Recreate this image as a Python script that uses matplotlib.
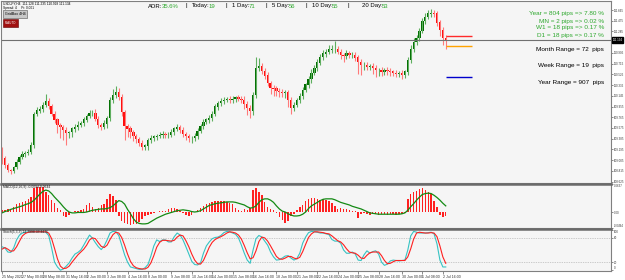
import numpy as np
import matplotlib.pyplot as plt
from matplotlib.transforms import blended_transform_factory

plt.rcParams['font.family'] = ['Liberation Sans', 'DejaVu Sans']

# USDJPY H4 closes
closes = [
    109.04, 108.92, 108.83, 108.81, 108.88, 108.97, 109.06, 109.11, 109.13, 109.15,
    109.27, 109.82, 109.88, 109.91, 109.98, 110.05, 109.96, 109.82, 109.72, 109.63,
    109.59, 109.54, 109.49, 109.50, 109.56, 109.59, 109.63, 109.66, 109.72, 109.79,
    109.84, 109.84, 109.73, 109.63, 109.59, 109.65, 109.75, 110.07, 110.16, 110.21,
    110.12, 109.86, 109.61, 109.56, 109.50, 109.43, 109.38, 109.31, 109.24, 109.26,
    109.36, 109.40, 109.42, 109.43, 109.45, 109.47, 109.45, 109.45, 109.50, 109.56,
    109.59, 109.54, 109.47, 109.43, 109.40, 109.40, 109.43, 109.52, 109.61, 109.68,
    109.72, 109.75, 109.82, 109.95, 110.02, 110.05, 110.07, 110.09, 110.07, 110.09,
    110.11, 110.09, 110.07, 110.00, 109.93, 109.88, 110.16, 110.64, 110.67, 110.58,
    110.50, 110.37, 110.28, 110.27, 110.23, 110.21, 110.20, 110.20, 110.07, 109.93,
    109.98, 110.07, 110.14, 110.25, 110.34, 110.44, 110.55, 110.64, 110.73, 110.83,
    110.89, 110.92, 110.96, 110.97, 110.97, 110.92, 110.87, 110.85, 110.89, 110.87,
    110.87, 110.82, 110.74, 110.69, 110.69, 110.66, 110.67, 110.64, 110.60, 110.60,
    110.57, 110.60, 110.58, 110.57, 110.55, 110.53, 110.55, 110.51, 110.57, 110.78,
    110.97, 111.10, 111.17, 111.29, 111.47, 111.54, 111.60, 111.61, 111.60, 111.44,
    111.31, 111.17, 111.13,
]
first_open = 109.15
# wick lengths in pips above / below the body
wick_up = [
    8, 4, 3, 2, 3, 5, 4, 5, 4, 6, 5, 4, 6, 6, 5, 12, 5, 4, 5, 4,
    3, 4, 5, 3, 4, 5, 6, 4, 5, 4, 6, 5, 7, 5, 4, 6, 4, 5, 10, 11,
    8, 5, 4, 4, 5, 4, 3, 4, 5, 3, 4, 5, 3, 4, 6, 5, 4, 5, 6, 4,
    5, 4, 6, 4, 3, 4, 5, 6, 4, 5, 4, 6, 5, 5, 4, 6, 5, 4, 5, 6,
    4, 5, 5, 8, 5, 6, 6, 20, 14, 6, 5, 6, 4, 5, 4, 5, 6, 4, 5, 6,
    5, 4, 6, 5, 4, 6, 7, 5, 6, 5, 7, 6, 8, 8, 15, 6, 5, 4, 6, 5,
    5, 6, 4, 5, 6, 5, 4, 6, 5, 4, 5, 4, 6, 5, 4, 5, 4, 5, 4, 6,
    8, 7, 6, 5, 6, 7, 7, 7, 6, 5, 4, 5, 5,
]
wick_dn = [
    10, 5, 4, 5, 3, 4, 3, 4, 5, 3, 4, 5, 3, 4, 5, 4, 5, 4, 6, 15,
    20, 18, 22, 10, 8, 6, 5, 4, 5, 4, 4, 5, 4, 6, 5, 4, 8, 6, 5, 6,
    5, 8, 25, 14, 10, 8, 7, 6, 6, 5, 7, 6, 5, 6, 4, 5, 6, 5, 4, 5,
    4, 6, 5, 7, 8, 10, 6, 5, 4, 5, 4, 5, 6, 4, 5, 6, 5, 4, 5, 6,
    5, 4, 6, 8, 12, 12, 8, 6, 5, 4, 5, 6, 10, 12, 8, 9, 8, 10, 12, 10,
    5, 4, 5, 6, 4, 5, 6, 4, 5, 4, 5, 6, 4, 5, 6, 4, 8, 10, 6, 5,
    6, 5, 20, 18, 8, 6, 5, 10, 12, 10, 8, 6, 6, 7, 6, 5, 6, 7, 5, 6,
    5, 4, 5, 6, 4, 5, 4, 6, 5, 6, 10, 12, 15,
]

macd_hist = [
    0.004, 0.005, 0.006, 0.008, 0.012, 0.018, 0.020, 0.022, 0.026, 0.030,
    0.034, 0.055, 0.057, 0.058, 0.056, 0.045, 0.038, 0.028, 0.020, 0.010,
    0.004, -0.008, -0.011, -0.006, 0.001, 0.002, 0.003, 0.004, 0.008, 0.016,
    0.020, 0.012, 0.008, 0.010, 0.015, 0.018, 0.030, 0.040, 0.036, 0.028,
    -0.010, -0.020, -0.026, -0.028, -0.029, -0.028, -0.027, -0.022, -0.016, -0.010,
    -0.007, -0.004, -0.002, 0.001, 0.002, 0.002, 0.003, 0.006, 0.009, 0.010,
    0.006, 0.002, -0.002, -0.007, -0.009, -0.006, 0.001, 0.004, 0.010, 0.014,
    0.018, 0.020, 0.022, 0.024, 0.026, 0.025, 0.026, 0.022, 0.020, 0.018,
    0.010, 0.004, 0.002, 0.008, 0.004, 0.010, 0.050, 0.055, 0.045, 0.038,
    0.022, 0.012, 0.008, 0.004, -0.002, -0.012, -0.018, -0.025, -0.020, -0.010,
    -0.005, 0.004, 0.012, 0.016, 0.024, 0.030, 0.033, 0.032, 0.030, 0.028,
    0.029, 0.027, 0.026, 0.020, 0.014, 0.008, 0.010, 0.007, 0.006, 0.004,
    0.003, 0.002, -0.014, -0.005, -0.003, -0.004, -0.006, -0.004, -0.005, -0.006,
    -0.005, -0.004, -0.006, -0.005, -0.004, -0.006, -0.005, -0.004, -0.003, 0.030,
    0.040, 0.045, 0.048, 0.052, 0.055, 0.050, 0.045, 0.040, 0.025, 0.012,
    -0.006, -0.012, -0.010,
]
macd_signal = [
    -0.002, 0.001, 0.003, 0.006, 0.008, 0.010, 0.012, 0.014, 0.017, 0.019,
    0.022, 0.027, 0.034, 0.041, 0.047, 0.050, 0.048, 0.042, 0.034, 0.027,
    0.020, 0.012, 0.005, 0.000, -0.002, -0.002, -0.001, -0.001, -0.001, 0.000,
    0.002, 0.004, 0.005, 0.006, 0.007, 0.007, 0.008, 0.010, 0.014, 0.020,
    0.026, 0.024, 0.018, 0.006, -0.004, -0.015, -0.023, -0.026, -0.027, -0.027,
    -0.026, -0.022, -0.018, -0.014, -0.011, -0.008, -0.005, -0.003, -0.001, 0.001,
    0.003, 0.004, 0.005, 0.004, 0.003, 0.001, 0.000, 0.001, 0.003, 0.007,
    0.011, 0.015, 0.017, 0.019, 0.020, 0.021, 0.022, 0.023, 0.023, 0.023,
    0.022, 0.020, 0.018, 0.016, 0.012, 0.009, 0.010, 0.014, 0.022, 0.028,
    0.030, 0.030, 0.027, 0.022, 0.014, 0.007, 0.002, 0.000, -0.004, -0.007,
    -0.009, -0.009, -0.008, -0.005, 0.000, 0.008, 0.014, 0.018, 0.022, 0.026,
    0.029, 0.030, 0.030, 0.030, 0.028, 0.025, 0.022, 0.020, 0.018, 0.016,
    0.013, 0.011, 0.009, 0.007, 0.004, 0.001, -0.002, -0.003, -0.004, -0.005,
    -0.005, -0.005, -0.005, -0.005, -0.005, -0.005, -0.005, -0.004, -0.002, 0.004,
    0.012, 0.019, 0.027, 0.034, 0.040, 0.042, 0.043, 0.042, 0.038, 0.033,
    0.027, 0.020, 0.014,
]

stoch_k = [
    58, 55, 45, 44, 55, 75, 87, 92, 94, 95, 95, 95, 95, 96, 95, 94, 86, 55, 20, 8,
    0, 3, 10, 18, 30, 40, 44, 50, 62, 75, 87, 79, 68, 58, 51, 60, 75, 92, 96, 95,
    86, 62, 38, 20, 8, 6, 4, 2, 2, 6, 14, 35, 60, 75, 71, 75, 75, 70, 70, 83,
    92, 87, 75, 58, 40, 22, 14, 13, 18, 42, 60, 70, 78, 81, 82, 86, 93, 96, 95, 92,
    89, 80, 62, 42, 25, 17, 50, 78, 86, 82, 72, 62, 45, 33, 25, 26, 30, 35, 36, 30,
    25, 29, 42, 67, 82, 93, 96, 95, 94, 92, 92, 90, 88, 76, 72, 72, 67, 50, 42, 42,
    45, 40, 25, 24, 38, 48, 42, 46, 48, 40, 20, 12, 15, 23, 25, 24, 23, 24, 25, 50,
    85, 96, 94, 92, 92, 92, 93, 94, 90, 65, 25, 8, 8,
]
stoch_d = [
    52, 56, 52, 47, 48, 58, 72, 85, 91, 94, 95, 95, 95, 95, 95, 95, 92, 78, 54, 28,
    10, 4, 5, 10, 20, 29, 38, 45, 52, 62, 75, 80, 78, 68, 59, 56, 62, 76, 88, 94,
    92, 81, 62, 40, 22, 11, 6, 4, 3, 3, 7, 18, 36, 57, 69, 74, 74, 73, 72, 74,
    82, 87, 85, 73, 58, 40, 25, 16, 15, 24, 40, 57, 69, 76, 80, 83, 87, 92, 95, 94,
    92, 87, 77, 61, 43, 28, 31, 48, 71, 82, 80, 72, 60, 47, 34, 28, 27, 30, 34, 34,
    30, 28, 32, 46, 64, 81, 90, 95, 95, 94, 93, 91, 90, 85, 79, 73, 70, 63, 53, 45,
    43, 42, 37, 30, 29, 37, 43, 45, 45, 45, 36, 24, 16, 17, 21, 24, 24, 24, 24, 33,
    53, 77, 92, 94, 93, 92, 92, 93, 92, 83, 60, 33, 17,
]

date_pos = [0, 7, 14, 22, 29, 36, 43, 50, 58, 65, 72, 79, 86, 94, 101, 108, 115, 122, 129, 137, 144, 151]
date_labels = ['25 May 2021', '27 May 00:00', '28 May 08:00', '31 May 16:00', '2 Jun 00:00',
               '3 Jun 08:00', '4 Jun 16:00', '8 Jun 00:00', '9 Jun 08:00', '10 Jun 16:00',
               '14 Jun 00:00', '15 Jun 08:00', '16 Jun 16:00', '18 Jun 00:00', '21 Jun 08:00',
               '22 Jun 16:00', '24 Jun 00:00', '25 Jun 08:00', '28 Jun 16:00', '30 Jun 00:00',
               '1 Jul 08:00', '2 Jul 16:00']
price_ticks = [108.625, 108.815, 109.005, 109.195, 109.385, 109.575, 109.765, 109.955,
               110.145, 110.335, 110.525, 110.715, 110.905, 111.285, 111.475, 111.665]
current_price = 111.134
level_prices = [111.205, 111.028, 110.479]
level_colors = ['#ff2a2a', '#ffa200', '#0000cc']

# ---- figure / panels (pixel layout of the 625x280 screenshot)
W, H = 625, 280
fig = plt.figure(figsize=(6.25, 2.8), dpi=100)
fig.patch.set_facecolor('white')


def box(top, bottom, left=1, right=611):
    return [left / W, 1 - bottom / H, (right - left) / W, (bottom - top) / H]


ax = fig.add_axes(box(1, 183))
ax_m = fig.add_axes(box(184, 228))
ax_s = fig.add_axes(box(229, 271))

n = len(closes)
idx = np.arange(n)
c = np.array(closes)
o = np.concatenate([[first_open], c[:-1]])
hi = np.maximum(o, c) + np.array(wick_up) * 0.01
lo = np.minimum(o, c) - np.array(wick_dn) * 0.01
up = c >= o

xlim = (-0.34, 208.6)
for a in (ax, ax_m, ax_s):
    a.set_facecolor('#f5f5f5')
    a.set_xlim(*xlim)
    for s in a.spines.values():
        s.set_color('#808080')
        s.set_linewidth(0.8)
    a.yaxis.tick_right()
    a.tick_params(axis='y', labelsize=2.1, length=1.2, width=0.4, pad=0.6, colors='#333333')
for a in (ax_m, ax_s):
    a.spines['top'].set_linewidth(1.8)
    a.spines['top'].set_color('#6a6a6a')
ax.set_xticks([])
ax_m.set_xticks([])

# candles
ax.vlines(idx, lo, hi, colors=np.where(up, '#5fae5f', '#ff7a7a'), lw=0.8)
ax.bar(idx, np.abs(c - o) + 0.006, bottom=np.minimum(o, c), width=0.78,
       color=np.where(up, '#006e00', '#ff0a0a'), lw=0)
ax.axhline(current_price, color='#707070', lw=0.8)
ax.hlines(level_prices, n - 1, n + 8, colors=level_colors, lw=1.0)
ax.set_ylim(108.600, 111.825)
ax.set_yticks(price_ticks, ['%.3f' % t for t in price_ticks])
tr = blended_transform_factory(ax.transAxes, ax.transData)
ax.text(1.003, current_price, '%.3f' % current_price, transform=tr, fontsize=2.1,
        color='white', va='center', ha='left',
        bbox=dict(boxstyle='square,pad=0.2', fc='black', ec='black'))

# MACD
ax_m.bar(idx, macd_hist, width=0.5, color='#ff2020', lw=0)
ax_m.plot(idx, macd_signal, color='#148a14', lw=0.9)
ax_m.set_ylim(-0.0364, 0.0638)
ax_m.set_yticks([0.0637, 0.0, -0.0364], ['0.0637', '0.00', '-0.0494'])
mlabs = ax_m.get_yticklabels()
mlabs[0].set_verticalalignment('top')
mlabs[2].set_verticalalignment('bottom')
ax_m.text(0.004, 0.97, 'MACD(12,26,9) -0.0094 0.0644', transform=ax_m.transAxes,
          fontsize=2.4, va='top', color='#222222')

# Stochastic
ax_s.axhline(80, color='#a0a0a0', lw=0.5, ls=(0, (1, 1.5)))
ax_s.axhline(20, color='#a0a0a0', lw=0.5, ls=(0, (1, 1.5)))
ax_s.plot(idx, stoch_k, color='#36c3c3', lw=0.8)
ax_s.plot(idx, stoch_d, color='#ff2020', lw=0.8)
ax_s.set_ylim(-2, 102)
ax_s.set_yticks([100, 80, 20, 0])
slabs = ax_s.get_yticklabels()
slabs[0].set_verticalalignment('top')
slabs[3].set_verticalalignment('bottom')
ax_s.text(0.004, 0.97, 'Stoch(5,3,3) 14.7998 33.4476', transform=ax_s.transAxes,
          fontsize=2.4, va='top', color='#222222')
ax_s.set_xticks(date_pos, date_labels)
ax_s.tick_params(axis='x', labelsize=2.6, length=2, width=0.4, pad=1, colors='#333333')
for lab in ax_s.get_xticklabels():
    lab.set_horizontalalignment('left')


def fx(x):
    return x / W


def fy(y):
    return 1 - y / H


# top-left info
fig.text(fx(3), fy(3.5), 'USDJPY,H4  111.128 111.235 110.928 111.134', fontsize=2.3, va='center')
fig.text(fx(3), fy(8), 'Spread: 4     Pt: 0.001', fontsize=2.3, va='center')
fig.text(fx(5), fy(14), 'GridBox 4H4', fontsize=2.6, va='center',
         bbox=dict(boxstyle='square,pad=0.5', fc='#c8c8c8', ec='#555555', lw=0.4))
fig.text(fx(5), fy(23), 'R-AUTO', fontsize=2.2, va='center', color='white',
         bbox=dict(boxstyle='square,pad=0.5', fc='#a01010', ec='#600000', lw=0.4))

# ADR header
green = '#2ea82e'
header = [(148, 'ADR:', 'black'), (162, '35.6%', green), (185, '|', 'black'),
          (192, 'Today:', 'black'), (209, '19', green), (226, '|', 'black'),
          (232, '1 Day:', 'black'), (249, '71', green), (265, '|', 'black'),
          (272, '5 Day:', 'black'), (289, '56', green), (305, '|', 'black'),
          (312, '10 Day:', 'black'), (332, '55', green), (348, '|', 'black'),
          (362, '20 Day:', 'black'), (382, '53', green)]
for x, t, col in header:
    fig.text(fx(x), fy(6), t, fontsize=4.3, color=col, va='center')

# right-side stats
for y, t in [(14, 'Year = 804 pips => 7.80 %'), (21, 'MN = 2 pips => 0.02 %'),
             (28, 'W1 = 18 pips => 0.17 %'), (35, 'D1 = 18 pips => 0.17 %')]:
    fig.text(fx(604), fy(y), t, fontsize=4.6, color=green, ha='right', va='center')
for y, t in [(50, 'Month Range = 72  pips'), (66, 'Week Range = 19  pips'),
             (82, 'Year Range = 907  pips')]:
    fig.text(fx(604), fy(y), t, fontsize=4.6, color='black', ha='right', va='center')

fig.savefig('out.png', dpi=100)
